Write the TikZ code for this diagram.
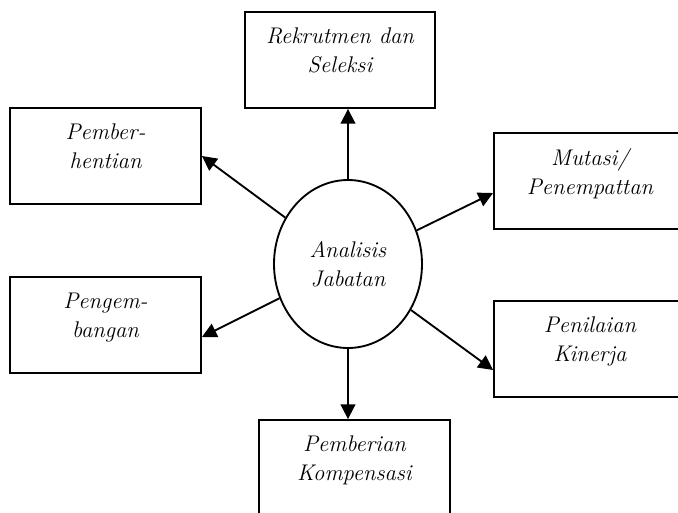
\documentclass[tikz,border=0pt]{standalone}
\usepackage{tikz}
\usetikzlibrary{shapes.geometric,arrows.meta}

\begin{document}
\begin{tikzpicture}[x=0.75pt, y=-0.75pt, line width=1.4pt,
  every node/.style = {align=center,
    font=\fontsize{17}{21.75}\selectfont\itshape},
  box/.style = {shape=rectangle, draw, minimum height=72pt, text depth=14.5pt},
  >={Triangle[length=11pt,width=11pt]}]
  \useasboundingbox (0,0) rectangle (678,512);
  \node[shape=ellipse, draw, minimum width=111pt, minimum height=126pt,
        inner sep=0pt] (ana) at (348,264) {Analisis\\Jabatan};
  \node[box, minimum width=142.5pt] (rek) at (340,60) {Rekrutmen dan\\Seleksi};
  \node[box, minimum width=143.25pt] (phk) at (105.5,156) {Pember-\\hentian};
  \node[box, minimum width=143.25pt] (peng) at (105.5,325) {Pengem-\\bangan};
  \node[box, minimum width=144pt] (mut) at (590,181) {Mutasi/\\Penempattan};
  \node[box, minimum width=144pt] (nil) at (590,349) {Penilaian\\Kinerja};
  \node[box, minimum width=143.25pt] (kom) at (354.5,468) {Pemberian\\Kompensasi};
  \draw[->] (ana.north) -- (ana.north |- rek.south);
  \draw[->] (ana.south) -- (ana.south |- kom.north);
  \draw[->] (ana) -- (phk.east);
  \draw[->] (ana) -- ([yshift=-9pt]peng.east);
  \draw[->] (ana) -- ([yshift=-9pt]mut.west);
  \draw[->] (ana) -- ([yshift=-15.75pt]nil.west);
\end{tikzpicture}
\end{document}
